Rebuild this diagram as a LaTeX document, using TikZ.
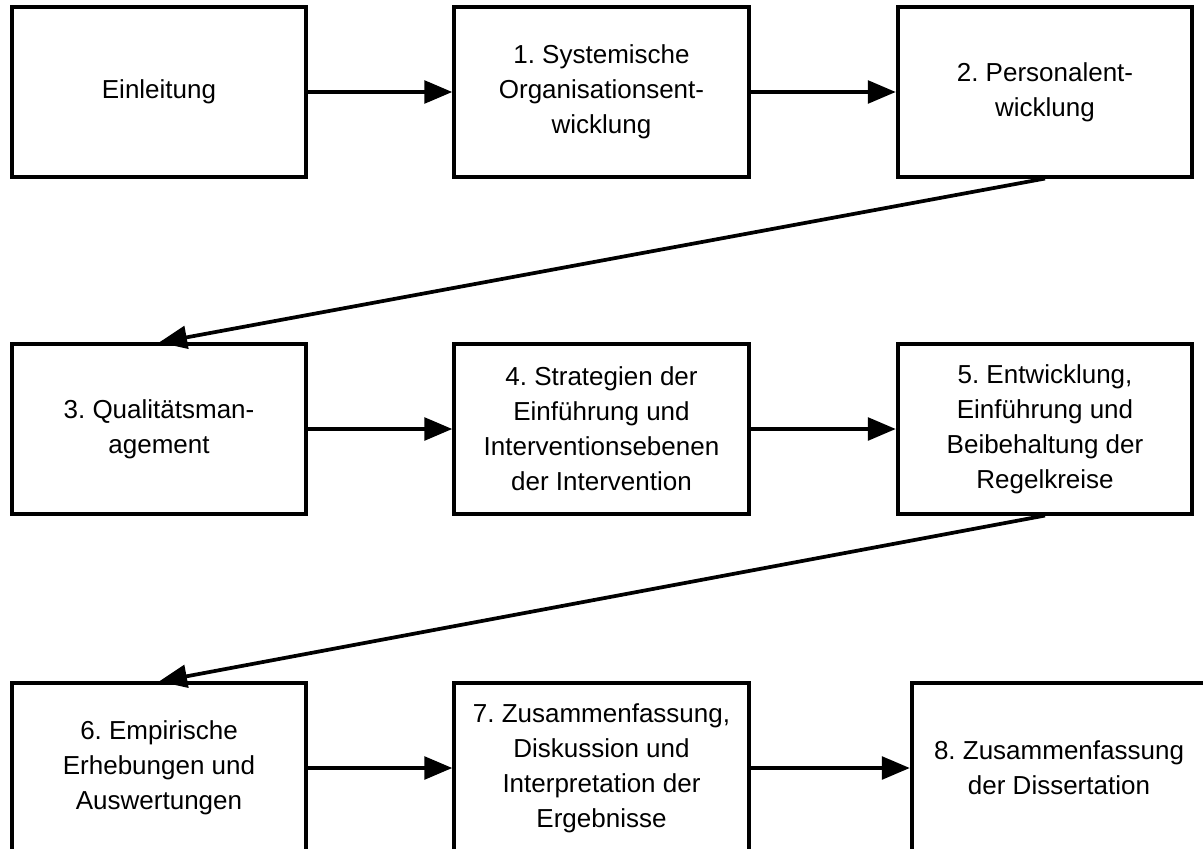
\documentclass[tikz,border=0pt]{standalone}
\usepackage{fontspec}
\setmainfont{Liberation Sans}
\usetikzlibrary{arrows.meta}
\frenchspacing
\begin{document}
\begin{tikzpicture}[x=0.75pt,y=-0.75pt,
  box/.style={draw, line width=2.8pt, minimum width=221pt, minimum height=127pt, inner sep=0pt, align=center,
    font=\fontsize{19.5pt}{26.25pt}\selectfont},
  conn/.style={line width=2.8pt, -{Triangle[length=21pt,width=17pt]}}]
\useasboundingbox (0,0) rectangle (1203,849);
\fill[white] (0,0) rectangle (1203,849);
\node[box] (b0) at (159,92) {Einleitung};
\node[box] (b1) at (601.5,92) {1. Systemische\\Organisationsent-\\wicklung};
\node[box] (b2) at (1045,92) {2. Personalent-\\wicklung};
\node[box] (b3) at (159,429) {3. Qualitätsman-\\agement};
\node[box] (b4) at (601.5,429) {4. Strategien der\\Einführung und\\Interventionsebenen\\der Intervention};
\node[box] (b5) at (1045,429) {5. Entwicklung,\\Einführung und\\Beibehaltung der\\Regelkreise};
\node[box] (b6) at (159,768) {6. Empirische\\Erhebungen und\\Auswertungen};
\node[box] (b7) at (601.5,768) {7. Zusammenfassung,\\Diskussion und\\Interpretation der\\Ergebnisse};
\node[box] (b8) at (1059,768) {8. Zusammenfassung\\der Dissertation};
\draw[conn] (b0.east) -- (b1.west);
\draw[conn] (b1.east) -- (b2.west);
\draw[conn] (b2.south) -- (b3.north);
\draw[conn] (b3.east) -- (b4.west);
\draw[conn] (b4.east) -- (b5.west);
\draw[conn] (b5.south) -- (b6.north);
\draw[conn] (b6.east) -- (b7.west);
\draw[conn] (b7.east) -- (b8.west);
\end{tikzpicture}
\end{document}
